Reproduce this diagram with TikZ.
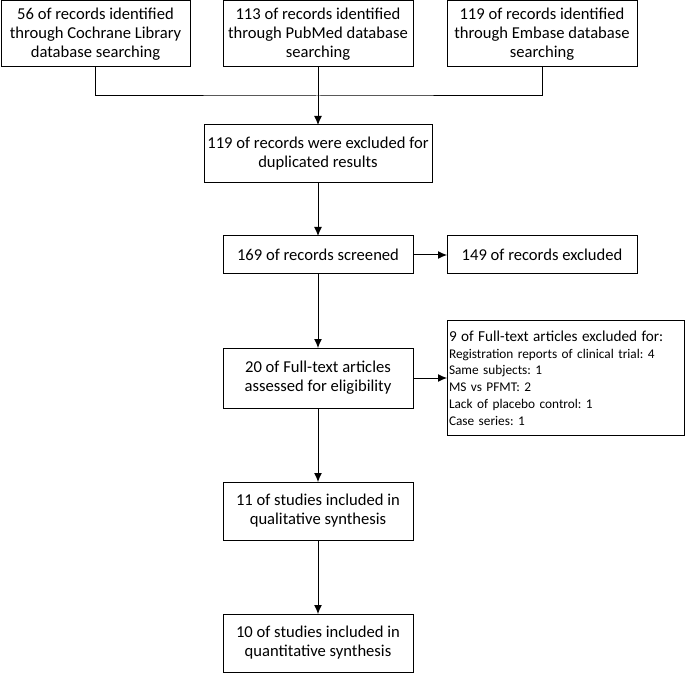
\documentclass[tikz,border=0pt]{standalone}
\usepackage{fontspec}
\setmainfont{Carlito}
\usetikzlibrary{positioning,arrows.meta}
\frenchspacing

\begin{document}
\begin{tikzpicture}[x=1pt,y=-1pt]
      \tikzstyle{box}=[rectangle, draw=black, line width=1pt, align=center, inner sep=2pt, outer sep=0pt, font=\fontsize{16.6}{19}\selectfont]
      \tikzstyle{wide}=[box, minimum width=190pt, minimum height=58pt]
      \tikzstyle{slim}=[box, minimum width=190pt, minimum height=38pt]
      \tikzstyle{connect}=[-{Latex[length=9pt,width=8pt]}, line width=1pt]
      \tikzstyle{plain}=[line width=1pt]

      \useasboundingbox (0,0) rectangle (685,676);

      % search sources
      \node[box, minimum width=190pt, minimum height=66pt] (pubmed) at (318,34) {113 of records identified\\through PubMed database\\searching};
      \node[box, minimum width=189pt, minimum height=66pt] (cochrane) [left=33pt of pubmed] {56 of records identified\\through Cochrane Library\\database searching};
      \node[box, minimum width=190pt, minimum height=66pt] (embase) [right=34pt of pubmed] {119 of records identified\\through Embase database\\searching};

      % main column
      \node[wide, minimum width=228pt] (dup) [below=58pt of pubmed] {119 of records were excluded for\\duplicated results};
      \node[slim] (screen) [below=53pt of dup] {169 of records screened};
      \node[wide, minimum height=60pt] (full) [below=74pt of screen] {20 of Full-text articles\\assessed for eligibility};
      \node[wide] (qual) [below=74pt of full] {11 of studies included in\\qualitative synthesis};
      \node[wide] (quant) [below=74pt of qual] {10 of studies included in\\quantitative synthesis};

      % exclusions
      \node[slim] (excl) [right=34pt of screen] {149 of records excluded};
      \node[box, align=left, inner xsep=2pt, text width=233pt, minimum height=115pt,
            font=\fontsize{13.3}{16.8}\selectfont] (fullex) [right=34pt of full]
        {{\fontsize{15.2}{19}\selectfont 9 of Full-text articles excluded for:}\\
         Registration reports of clinical trial: 4\\
         Same subjects: 1\\
         MS vs PFMT: 2\\
         Lack of placebo control: 1\\
         Case series: 1};

      \coordinate[below=29pt of pubmed.south] (join);
      \draw[plain] (cochrane.south) |- (join) -| (embase.south);
      \draw[plain] (pubmed.south) -- (join);
      \draw[connect] (join) -- (dup);
      \draw[connect] (dup) -- (screen);
      \draw[connect] (screen) -- (excl);
      \draw[connect] (screen) -- (full);
      \draw[connect] (full) -- (fullex);
      \draw[connect] (full) -- (qual);
      \draw[connect] (qual) -- (quant);
\end{tikzpicture}
\end{document}
